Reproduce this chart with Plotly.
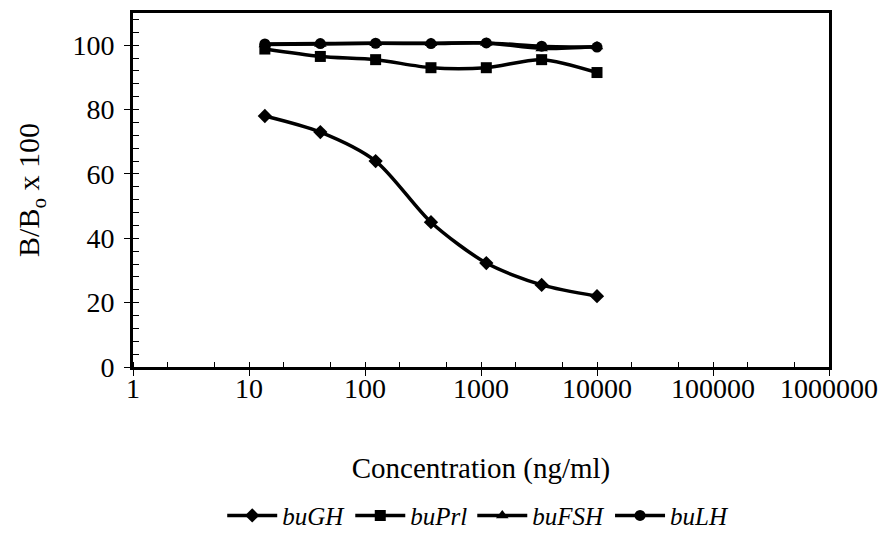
import plotly.graph_objects as go

# Data
conc = [13.7, 41.2, 123.5, 370.4, 1111.1, 3333.3, 10000]
buGH = [78.0, 73.0, 64.0, 45.0, 32.3, 25.5, 22.0]
buPrl = [98.8, 96.5, 95.5, 93.0, 93.0, 95.5, 91.5]
buFSH = [100.2, 100.4, 100.6, 100.6, 100.7, 99.0, 99.6]
buLH = [100.4, 100.5, 100.6, 100.5, 100.7, 99.7, 99.4]

series_names = ["buGH", "buPrl", "buFSH", "buLH"]
series_values = [buGH, buPrl, buFSH, buLH]
symbols = ["diamond", "square", "triangle-up", "circle"]

xtick_vals = [1, 10, 100, 1000, 10000, 100000, 1000000]
xtick_text = ["1", "10", "100", "1000", "10000", "100000", "1000000"]

fig = go.Figure()
for name, vals, sym in zip(series_names, series_values, symbols):
    fig.add_trace(go.Scatter(
        x=conc, y=vals, name=name, mode="lines+markers",
        line=dict(color="black", width=3.5, shape="spline", smoothing=0.8),
        marker=dict(symbol=sym, size=11, color="black"),
    ))

serif = "Liberation Serif, Times New Roman, serif"
fig.update_layout(
    width=888, height=554,
    margin=dict(l=133, r=55, t=10, b=187),
    paper_bgcolor="white", plot_bgcolor="white",
    font=dict(family=serif, size=27, color="black"),
    showlegend=True,
    legend=dict(orientation="h", x=0.496, xanchor="center", y=-0.42, yanchor="middle",
                font=dict(family=serif, size=25, style="italic"),
                itemwidth=50, tracegroupgap=0, bgcolor="rgba(0,0,0,0)"),
    xaxis=dict(
        type="log", range=[0, 6],
        tickvals=xtick_vals, ticktext=xtick_text,
        ticks="outside", ticklen=6, tickwidth=1, tickcolor="black",
        ticklabelstandoff=-12,
        showline=True, linecolor="black", linewidth=3, mirror=True,
        showgrid=False, zeroline=False,
        minor=dict(ticks="inside", ticklen=5, tickcolor="black", showgrid=False),
        tickfont=dict(size=28),
        title=dict(text="Concentration (ng/ml)", font=dict(size=29), standoff=56),
    ),
    yaxis=dict(
        range=[0, 110], tickvals=[0, 20, 40, 60, 80, 100],
        ticks="outside", ticklen=6, tickwidth=1, tickcolor="black",
        ticklabelstandoff=4,
        showline=True, linecolor="black", linewidth=3, mirror=True,
        showgrid=False, zeroline=False,
        minor=dict(dtick=4, ticks="inside", ticklen=6, tickcolor="black", showgrid=False),
        tickfont=dict(size=28),
        title=dict(text="B/B<sub>o</sub> x 100", font=dict(size=30), standoff=24),
    ),
)

fig.write_html("out.html")
